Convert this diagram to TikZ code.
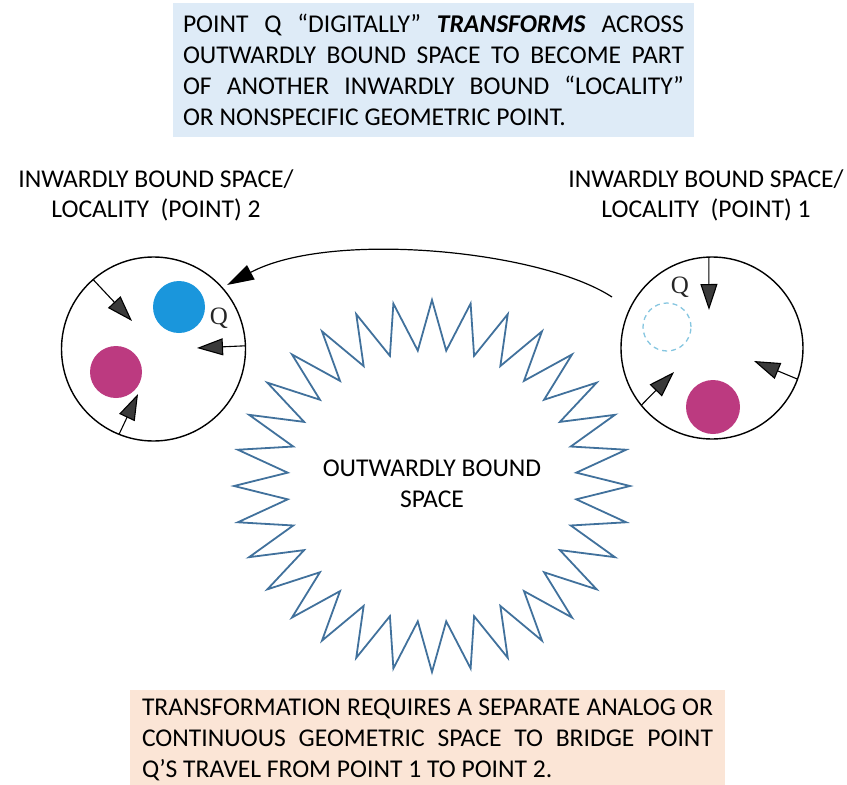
\documentclass[tikz,border=0pt]{standalone}
\usepackage{fontspec}
\setmainfont{Carlito}
\newfontfamily\qfont{Liberation Serif}
\usetikzlibrary{arrows.meta}

\definecolor{topbox}{HTML}{DEEBF7}
\definecolor{botbox}{HTML}{FBE5D6}
\definecolor{starblue}{HTML}{41719C}
\definecolor{dotblue}{HTML}{1A96DC}
\definecolor{dotmag}{HTML}{BC3A80}
\definecolor{ghost}{HTML}{86C6E0}
\definecolor{headgray}{HTML}{3A3A3A}

\newcommand{\notefont}{\fontsize{25.6}{31}\selectfont\spaceskip=0.226em plus 0.4em minus 0.12em\relax}

\tikzset{
  txt/.style={font=\fontsize{25.6}{30.5}\selectfont},
  note/.style={font=\notefont, inner ysep=0pt, outer sep=0pt, align=justify},
  locality/.style={circle, draw=black, line width=1.4pt, minimum size=#1, inner sep=0pt, outer sep=0pt},
  dot/.style={circle, fill=#1, inner sep=0pt, outer sep=0pt},
  inarrow/.style={draw=black, line width=1.1pt, -{Triangle[length=26pt,width=17pt,fill=headgray]}},
  travel/.style={draw=black, line width=1.2pt, -{Triangle[length=27pt,width=16pt]}},
  qlabel/.style={font=\qfont\fontsize{25}{25}\selectfont, text=black!85, inner sep=0pt},
  starline/.style={draw=starblue, line width=1.8pt, line join=miter}
}

\begin{document}
\begin{tikzpicture}[x=1pt, y=-1pt]
\useasboundingbox (0,0) rectangle (847,785);

% heading note
\node[note, fill=topbox, text width=501pt, inner xsep=10pt, minimum height=134pt]
  (head) at (433.5,70)
  {POINT Q “DIGITALLY” \textbf{\textit{TRANSFORMS}} ACROSS\linebreak
   OUTWARDLY BOUND SPACE TO BECOME PART\linebreak
   OF ANOTHER INWARDLY BOUND “LOCALITY”\linebreak
   OR NONSPECIFIC GEOMETRIC POINT.};

% footer note
\node[note, fill=botbox, text width=571pt, inner xsep=12pt, minimum height=100pt]
  (foot) at (427.5,739.5)
  {TRANSFORMATION REQUIRES A SEPARATE ANALOG OR\linebreak
   CONTINUOUS GEOMETRIC SPACE TO BRIDGE POINT\linebreak
   Q’S TRAVEL FROM POINT 1 TO POINT 2.};

% locality labels
\node[txt, align=center] (lab2) at (156,195.5) {INWARDLY BOUND SPACE/\\LOCALITY\ \ (POINT) 2};
\node[txt, align=center] (lab1) at (706,195.5) {INWARDLY BOUND SPACE/\\LOCALITY\ \ (POINT) 1};

% outwardly bound space: 32-pointed star
\draw[starline] (432+198,486)
  \foreach \k in {1,...,63} {
    -- ({432+(isodd(\k)?145:198)*cos(\k*5.625)}, {486+(isodd(\k)?136:186)*sin(\k*5.625)})
  } -- cycle;
\node[txt, align=center] (outer) at (432,484) {OUTWARDLY BOUND\\SPACE};

% locality (point) 2
\node[locality=184pt] (L) at (153.5,349) {};
\node[dot=dotblue, minimum size=52pt] (qnew) at (179,307) {};
\node[dot=dotmag, minimum size=52pt] (m2) at (116,372) {};
\node[qlabel] (q2) at (219,318) {Q};
\coordinate (l1) at (132,321);
\coordinate (l2) at (197,348);
\coordinate (l3) at (138,394);
\draw[inarrow] (L.131) -- (l1);
\draw[inarrow] (L.2) -- (l2);
\draw[inarrow] (L.248) -- (l3);

% locality (point) 1
\node[locality=182pt] (R) at (712,348) {};
\node[circle, draw=ghost, dash pattern=on 5pt off 4pt, line width=1.3pt,
      minimum size=48pt, inner sep=0pt] (qold) at (667,327) {};
\node[dot=dotmag, minimum size=54pt] (m1) at (713,407) {};
\node[qlabel] (q1) at (680,287) {Q};
\coordinate (r1) at (709,310);
\coordinate (r2) at (674,372);
\coordinate (r3) at (754,361);
\draw[inarrow] (R.92) -- (r1);
\draw[inarrow] (R.219) -- (r2);
\draw[inarrow] (R.340) -- (r3);

% Q's jump from point 1 to point 2
\coordinate (jumpstart) at (612,297);
\coordinate (jumpend) at (227,285);
\draw[travel] (jumpstart) .. controls (540,250) and (330,230) .. (jumpend);
\end{tikzpicture}
\end{document}
